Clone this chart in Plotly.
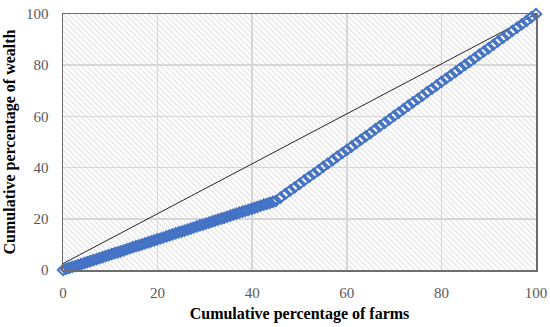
import plotly.graph_objects as go

# Lorenz curve points (cumulative % of farms, cumulative % of wealth)
farms_pct = [0, 0.64, 1.29, 1.93, 2.57, 3.21, 3.86, 4.5, 5.14, 5.79, 6.43, 7.07, 7.71, 8.36, 9,
             9.64, 10.29, 10.93, 11.57, 12.21, 12.86, 13.5, 14.14, 14.79, 15.43, 16.07, 16.71,
             17.36, 18, 18.64, 19.29, 19.93, 20.57, 21.21, 21.86, 22.5, 23.14, 23.79, 24.43,
             25.07, 25.71, 26.36, 27, 27.64, 28.29, 28.93, 29.57, 30.21, 30.86, 31.5, 32.14,
             32.79, 33.43, 34.07, 34.71, 35.36, 36, 36.64, 37.29, 37.93, 38.57, 39.21, 39.86,
             40.5, 41.14, 41.79, 42.43, 43.07, 43.71, 44.36, 45,
             46, 47, 48, 49, 50, 51, 52, 53, 54, 55, 56, 57, 58, 59, 60, 61, 62, 63, 64, 65,
             66, 67, 68, 69, 70, 71, 72, 73, 74, 75, 76, 77, 78, 79, 80, 81, 82, 83, 84, 85,
             86, 87, 88, 89, 90, 91, 92, 93, 94, 95, 96, 97, 98, 99, 100]
wealth_pct = [0, 0.4, 0.8, 1.2, 1.5, 1.9, 2.3, 2.7, 3.1, 3.5, 3.9, 4.2, 4.6, 5.0, 5.4,
              5.8, 6.2, 6.6, 6.9, 7.3, 7.7, 8.1, 8.5, 8.9, 9.3, 9.6, 10.0,
              10.4, 10.8, 11.2, 11.6, 12.0, 12.3, 12.7, 13.1, 13.5, 13.9, 14.3, 14.7,
              15.0, 15.4, 15.8, 16.2, 16.6, 17.0, 17.4, 17.7, 18.1, 18.5, 18.9, 19.3,
              19.7, 20.1, 20.4, 20.8, 21.2, 21.6, 22.0, 22.4, 22.8, 23.1, 23.5, 23.9,
              24.3, 24.7, 25.1, 25.5, 25.8, 26.2, 26.6, 27.0,
              28.3, 29.7, 31.0, 32.3, 33.6, 35.0, 36.3, 37.6, 38.9, 40.3, 41.6, 42.9, 44.3,
              45.6, 46.9, 48.2, 49.6, 50.9, 52.2, 53.5, 54.9, 56.2, 57.5, 58.8, 60.2, 61.5,
              62.8, 64.2, 65.5, 66.8, 68.1, 69.5, 70.8, 72.1, 73.5, 74.8, 76.1, 77.4, 78.8,
              80.1, 81.4, 82.7, 84.1, 85.4, 86.7, 88.0, 89.4, 90.7, 92.0, 93.4, 94.7, 96.0,
              97.3, 98.7, 100.0]

# Line of equality
equality_x = [0, 100]
equality_y = [2.5, 100]

# Axis setup
axis_range = [0, 100]
tick_vals = [0, 20, 40, 60, 80, 100]
tick_text = ["0", "20", "40", "60", "80", "100"]

SERIF = "Liberation Serif, DejaVu Serif, serif"

fig = go.Figure()

# hatched plot-area background
fig.add_trace(go.Bar(
    x=[sum(axis_range) / 2], y=[axis_range[1]], width=[axis_range[1] - axis_range[0]],
    marker=dict(color="rgba(0,0,0,0)", line=dict(width=0),
                pattern=dict(shape="\\", fgcolor="#cccccc", bgcolor="rgba(0,0,0,0)",
                             size=4, solidity=0.35)),
    hoverinfo="skip", showlegend=False))

fig.add_trace(go.Scatter(
    x=equality_x, y=equality_y, mode="lines",
    line=dict(color="#262626", width=1), showlegend=False))

fig.add_trace(go.Scatter(
    x=farms_pct, y=wealth_pct, mode="markers",
    marker=dict(symbol="diamond-open", size=8, color="#4472C4",
                line=dict(color="#4472C4", width=2)),
    showlegend=False, cliponaxis=False))

fig.update_layout(
    width=550, height=327,
    margin=dict(l=63, r=14, t=14, b=57),
    paper_bgcolor="white", plot_bgcolor="white",
    bargap=0,
    font=dict(family=SERIF, size=14, color="#595959"),
)

fig.update_xaxes(
    range=axis_range, tickvals=tick_vals, ticktext=tick_text,
    showgrid=True, gridcolor="#d9d9d9", gridwidth=1.5,
    showline=True, linecolor="#6e6e6e", linewidth=1.5, mirror=True,
    zeroline=False, ticks="", ticklabelstandoff=8, automargin=False,
    tickfont=dict(family=SERIF, size=15, color="#595959"),
    title=dict(text="<b>Cumulative percentage of farms</b>",
               font=dict(family=SERIF, size=16, color="#000000"), standoff=8),
)
fig.update_yaxes(
    range=axis_range, tickvals=tick_vals, ticktext=tick_text,
    showgrid=True, gridcolor="#d9d9d9", gridwidth=1.5,
    showline=True, linecolor="#6e6e6e", linewidth=1.5, mirror=True,
    zeroline=False, ticks="", ticklabelstandoff=10, automargin=False,
    tickfont=dict(family=SERIF, size=15, color="#595959"),
    title=dict(text="<b>Cumulative percentage of wealth</b>",
               font=dict(family=SERIF, size=16, color="#000000"), standoff=6),
)

fig.write_html("out.html", config={"displayModeBar": False, "staticPlot": True},
               post_script="document.body.style.margin='0';document.body.style.padding='0';")
